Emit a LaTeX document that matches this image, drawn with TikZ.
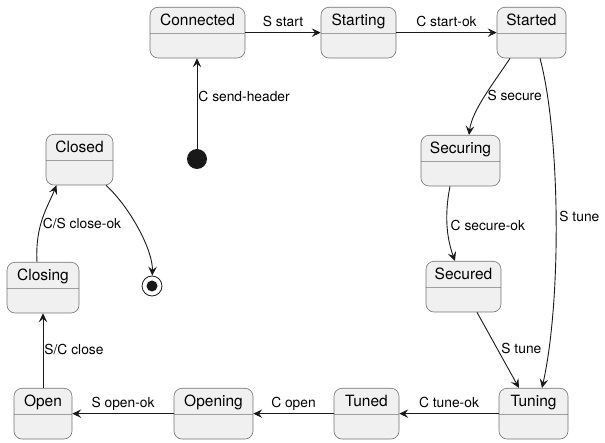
\documentclass[tikz,border=0pt]{standalone}
\usepackage{fontspec}
\setmainfont{TeX Gyre Heros}
\usetikzlibrary{arrows.meta,shapes.multipart}
\begin{document}
\begin{tikzpicture}[x=1pt, y=-1pt,
    state/.style={rectangle split, rectangle split parts=2, anchor=north,
        draw=black!55, fill=black!6, rounded corners=8pt, line width=0.6pt,
        font=\fontsize{15.5}{18}\selectfont, inner xsep=0pt, inner ysep=6pt,
        text height=11.5pt, text depth=2pt,
        rectangle split empty part height=12pt, rectangle split empty part depth=0pt,
        minimum width=#1},
    edge/.style={draw=black!90, line width=0.9pt, -{Stealth[length=9pt, width=8.5pt, inset=3.5pt]}},
    lbl/.style={font=\fontsize{13.8}{16}\selectfont, text height=9.5pt, text depth=2.5pt, inner sep=3pt}]
    \useasboundingbox (0,0) rectangle (605,443);
    \foreach \n/\t/\x/\y/\w in {connected/Connected/197.5/7/95, starting/Starting/358.5/7/75,
        started/Started/531.5/7/69, securing/Securing/460.5/135/79, secured/Secured/463.5/261/75,
        tuning/Tuning/533.5/388/69, tuned/Tuned/366.5/388/65, opening/Opening/213.5/388/79,
        open/Open/43/388/58, closing/Closing/43/262/72, closed/Closed/79.5/134/67} {
        \node[state=\w] (\n) at (\x,\y) {\t};
    }
    \node[circle, fill=black!90, minimum size=20pt, inner sep=0pt] (init) at (197,159) {};
    \node[circle, draw=black!90, line width=0.8pt, minimum size=20pt, inner sep=0pt,
        path picture={\fill[black!90] (path picture bounding box.center) circle (5.5pt);}] (final) at (152,286) {};
    % transitions
    \draw[edge] (init) -- (init |- connected.south) node[lbl, pos=0.565, right, inner sep=1pt] {C send-header};
    \draw[edge] (connected) -- (starting) node[lbl, midway, above] {S start};
    \draw[edge] (starting) -- (started) node[lbl, midway, above] {C start-ok};
    \draw[edge] ([xshift=-21.5pt]started.south) .. controls +(-15,23) and +(3,-25) .. ([xshift=8.5pt]securing.north)
        node[lbl, pos=0.52, right] {S secure};
    \draw[edge] ([xshift=8.5pt]started.south) .. controls +(20,75) and +(20,-90) .. ([xshift=8.5pt]tuning.north)
        node[lbl, pos=0.5, right] {S tune};
    \draw[edge] ([xshift=-10.5pt]securing.south) .. controls +(-6,30) and +(-8,-22) .. ([xshift=-8.5pt]secured.north)
        node[lbl, pos=0.5, right] {C secure-ok};
    \draw[edge] ([xshift=13.5pt]secured.south) -- ([xshift=-14.5pt]tuning.north) node[lbl, midway, right] {S tune};
    \draw[edge] (tuning) -- (tuned) node[lbl, midway, above] {C tune-ok};
    \draw[edge] (tuned) -- (opening) node[lbl, midway, above] {C open};
    \draw[edge] (opening) -- (open) node[lbl, midway, above] {S open-ok};
    \draw[edge] (open) -- (closing) node[lbl, midway, right, inner sep=1pt] {S/C close};
    \draw[edge] ([xshift=-6pt]closing.north) .. controls +(-2,-37) and +(-9,22) .. ([xshift=-23pt]closed.south)
        node[lbl, pos=0.4, right, inner sep=2pt] {C/S close-ok};
    \draw[edge] ([xshift=26.5pt]closed.south) .. controls +(24,22) and +(1,-36) .. (final);
\end{tikzpicture}
\end{document}
